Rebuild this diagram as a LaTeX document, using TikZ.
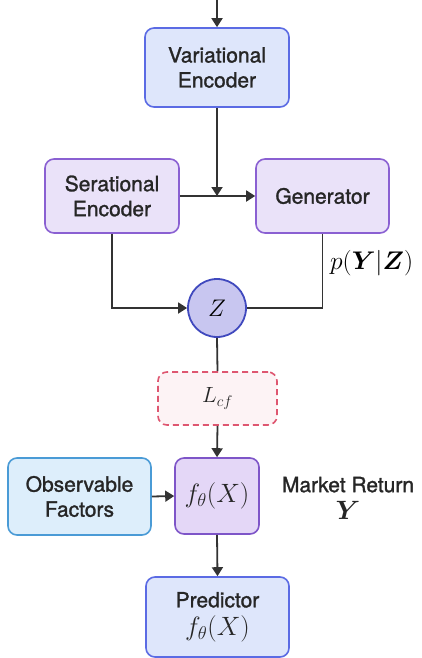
\documentclass[tikz,border=0pt]{standalone}
\usepackage{fix-cm}
\usepackage{bm}
\usepackage{fontspec}
\newfontfamily\labelfont{TeX Gyre Heros}[FakeBold=1.3]
\usetikzlibrary{arrows.meta}
\definecolor{veFill}{HTML}{DEE6FB}
\definecolor{veDraw}{HTML}{5B6BE4}
\definecolor{puFill}{HTML}{EAE2F9}
\definecolor{puDraw}{HTML}{8A60D2}
\definecolor{fFill}{HTML}{E4D7F7}
\definecolor{fDraw}{HTML}{7E55C8}
\definecolor{zFill}{HTML}{C8C6F0}
\definecolor{zDraw}{HTML}{4049BE}
\definecolor{lFill}{HTML}{FDF3F5}
\definecolor{lDraw}{HTML}{DE5670}
\definecolor{obFill}{HTML}{DDEEFB}
\definecolor{obDraw}{HTML}{4A9BD6}
\definecolor{lineC}{HTML}{333333}
\newcommand{\tsz}{\fontsize{21}{25}\selectfont}
\newcommand{\msz}{\fontsize{26.5}{30}\selectfont}
\tikzset{
  box/.style={rectangle, rounded corners=9pt, line width=1.6pt, align=center,
    font=\labelfont\tsz, text=black!85, inner sep=0pt},
  vebox/.style={box, fill=veFill, draw=veDraw},
  pubox/.style={box, fill=puFill, draw=puDraw},
  conn/.style={draw=lineC, line width=1.8pt},
  arr/.style={conn, -{Triangle[length=9pt,width=11pt]}}
}
\begin{document}
\begin{tikzpicture}[x=1pt,y=-1pt]
\useasboundingbox (0,0) rectangle (422,658);
\node[vebox, minimum width=144pt, minimum height=79pt] (ve) at (217,67.5) {Variational\\Encoder};
\node[pubox, minimum width=134pt, minimum height=74pt] (se) at (112,196) {Serational\\Encoder};
\node[pubox, minimum width=133pt, minimum height=74pt] (gen) at (322.5,196) {Generator};
\node[circle, fill=zFill, draw=zDraw, line width=1.8pt, minimum size=58pt, inner sep=0pt, font=\fontsize{24}{28}\selectfont] (z) at (217,308) {$Z$};
\node[box, fill=lFill, draw=lDraw, dash pattern=on 6pt off 4pt, minimum width=119pt, minimum height=53pt, font=\fontsize{22}{26}\selectfont] (lcf) at (217.5,398.5) {$L_{cf}$};
\node[box, fill=fFill, draw=fDraw, minimum width=84pt, minimum height=76pt, font=\msz] (f) at (217,496) {$f_\theta(X)$};
\node[box, fill=obFill, draw=obDraw, minimum width=143pt, minimum height=77pt] (obs) at (79.5,496.5) {Observable\\Factors};
\node[vebox, minimum width=143pt, minimum height=80pt] (pred) at (217.5,617) {Predictor\\[3pt]{\msz$f_\theta(X)$}};
\node[align=center, font=\labelfont\tsz, text=black!85, inner sep=0pt] (mr) at (348,498) {Market Return\\[2pt]{\msz$\bm{Y}$}};
\node[anchor=west, font=\fontsize{25.5}{30}\selectfont, inner sep=0pt] (pyz) at (330,263) {$p(\bm{Y}|\bm{Z})$};
\coordinate (top) at (217,0);
\coordinate (m) at (217,196);
\draw[arr] (top) -- (ve.north);
\draw[arr] (ve.south) -- (m);
\draw[arr] (se.east) -- (gen.west);
\draw[arr] (se.south) |- (z.west);
\draw[conn] (gen.south) |- (z.east);
\draw[conn] (z.south) -- (lcf.north);
\draw[arr] (lcf.south) -- (f.north);
\draw[arr] (obs.east) -- (f.west);
\draw[arr] (f.south) -- (pred.north);
\end{tikzpicture}
\end{document}
